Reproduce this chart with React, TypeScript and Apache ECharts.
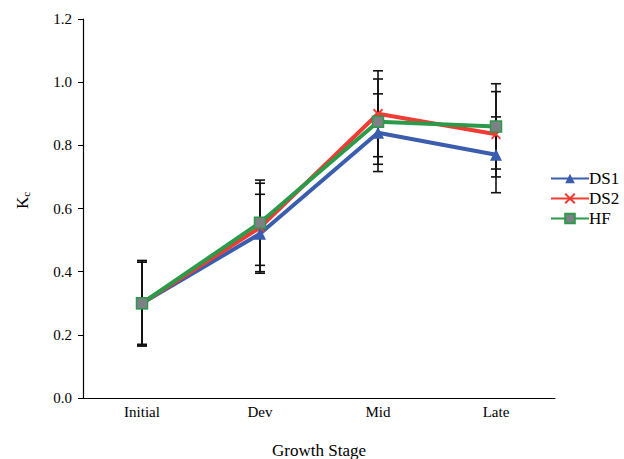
import React, { useEffect, useRef } from "react";
import * as echarts from "echarts";

const categories = ["Initial", "Dev", "Mid", "Late"];
const ds1 = [0.3, 0.52, 0.84, 0.77];
const ds2 = [0.3, 0.54, 0.9, 0.835];
const hf = [0.3, 0.555, 0.875, 0.86];
const ds1Err = [0.13, 0.125, 0.123, 0.12];
const ds2Err = [0.135, 0.14, 0.136, 0.135];
const hfErr = [0.135, 0.135, 0.135, 0.135];

const FONT = "Liberation Serif";

export default function App() {
  const ref = useRef<HTMLDivElement>(null);
  useEffect(() => {
    if (!ref.current) return;
    const chart = echarts.init(ref.current, null, { renderer: "svg" });
    const errData: number[][] = [];
    [
      [ds1, ds1Err],
      [ds2, ds2Err],
      [hf, hfErr],
    ].forEach(([vals, errs]) => {
      vals.forEach((v, i) => errData.push([i, v - errs[i], v + errs[i]]));
    });
    const mk = (name: string, data: number[], color: string, symbol: string, size: number, extra: any = {}) => ({
      name,
      type: "line",
      data,
      symbol,
      symbolSize: size,
      lineStyle: { color, width: 4 },
      itemStyle: { color, ...extra },
      z: 3,
    });
    chart.setOption({
      animation: false,
      textStyle: { fontFamily: FONT },
      grid: { left: 83, top: 19, right: 69, bottom: 61, outerBoundsMode: "none", containLabel: false },
      legend: {
        orient: "vertical",
        left: 545,
        top: 165,
        itemWidth: 38,
        itemHeight: 12,
        itemGap: 3,
        textStyle: { fontFamily: FONT, fontSize: 17, color: "#000", padding: [0, 0, 0, -5] },
        data: ["DS1", "DS2", "HF"],
      },
      xAxis: {
        type: "category",
        data: categories,
        boundaryGap: true,
        axisLine: { lineStyle: { color: "#000", width: 1.2 } },
        axisTick: { alignWithLabel: false, length: 5, lineStyle: { color: "#000" }, inside: false },
        axisLabel: { color: "#000", fontFamily: FONT, fontSize: 15, margin: 6 },
        name: "Growth Stage",
        nameLocation: "middle",
        nameGap: 44,
        nameTextStyle: { color: "#000", fontFamily: FONT, fontSize: 17 },
        splitLine: { show: false },
      },
      yAxis: {
        type: "value",
        min: 0,
        max: 1.2,
        interval: 0.2,
        axisLine: { show: true, lineStyle: { color: "#000", width: 1.2 } },
        axisTick: { show: true, length: 5, lineStyle: { color: "#000" } },
        axisLabel: {
          color: "#000",
          fontFamily: FONT,
          fontSize: 15,
          margin: 11,
          formatter: (v: number) => v.toFixed(1),
        },
        splitLine: { show: false },
      },
      graphic: [
        {
          type: "text",
          x: 13,
          y: 209,
          rotation: Math.PI / 2,
          style: {
            text: "{k|K}{c|c}",
            rich: {
              k: { fontFamily: FONT, fontSize: 17, fill: "#000" },
              c: { fontFamily: FONT, fontSize: 11, fill: "#000", padding: [7, 0, 0, 0] },
            },
          },
        },
      ],
      series: [
        {
          type: "custom",
          name: "err",
          data: errData,
          encode: { x: 0, y: [1, 2] },
          z: 1,
          renderItem: (params: any, api: any) => {
            const i = api.value(0);
            const lo = api.coord([i, api.value(1)]);
            const hi = api.coord([i, api.value(2)]);
            const w = 5;
            const style = { stroke: "#111", lineWidth: 1.6 };
            return {
              type: "group",
              children: [
                { type: "line", shape: { x1: lo[0], y1: lo[1], x2: hi[0], y2: hi[1] }, style },
                { type: "line", shape: { x1: lo[0] - w, y1: lo[1], x2: lo[0] + w, y2: lo[1] }, style },
                { type: "line", shape: { x1: hi[0] - w, y1: hi[1], x2: hi[0] + w, y2: hi[1] }, style },
              ],
            };
          },
        },
        mk("DS1", ds1, "#3a5dae", "triangle", 12),
        {
          ...mk("DS2", ds2, "#ee3b34", "path://M0,0L10,10M10,0L0,10", 9),
          itemStyle: { color: "none", borderColor: "#ee3b34", borderWidth: 1.8 },
        },
        mk("HF", hf, "#2b9a4a", "rect", 11, { color: "#7f7f86", borderColor: "#2b9a4a", borderWidth: 1.5 }),
      ],
    });
    return () => chart.dispose();
  }, []);
  return <div ref={ref} style={{ width: 624, height: 459, position: "absolute", left: 0, top: 0, background: "#fff" }} />;
}
